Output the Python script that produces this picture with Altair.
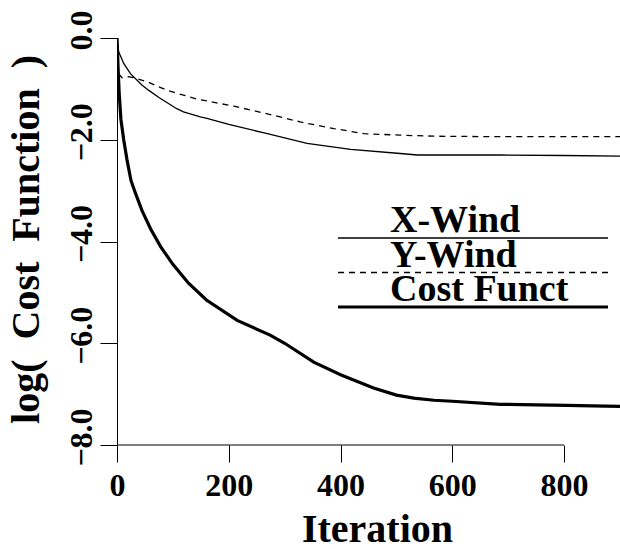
import altair as alt
import pandas as pd

FONT = "Liberation Serif"

x_ticks = [0, 200, 400, 600, 800]
y_ticks = [0.0, -2.0, -4.0, -6.0, -8.0]

xwind_iter = [0, 3, 12, 24, 45, 57, 75, 107, 119, 149, 161, 200, 269, 340, 418, 507, 537, 600, 686, 800, 900]
xwind_val = [0.0, -0.27, -0.5, -0.70, -0.93, -1.03, -1.17, -1.39, -1.45, -1.55, -1.58, -1.70, -1.88, -2.07, -2.19, -2.27, -2.30, -2.30, -2.30, -2.31, -2.32]

ywind_iter = [3, 9, 20, 29, 54, 90, 143, 209, 269, 328, 388, 442, 507, 567, 686, 800, 900]
ywind_val = [-0.70, -0.78, -0.76, -0.78, -0.86, -1.03, -1.20, -1.34, -1.49, -1.65, -1.78, -1.88, -1.91, -1.93, -1.94, -1.94, -1.94]

cost_iter = [0, 2, 4, 7, 12, 18, 25, 33, 45, 60, 78, 100, 128, 160, 215, 274, 300, 352, 400, 459, 500, 531, 567, 600, 686, 750, 806, 850, 900]
cost_val = [0.0, -0.6, -1.1, -1.6, -2.0, -2.4, -2.8, -3.05, -3.4, -3.75, -4.1, -4.45, -4.82, -5.15, -5.55, -5.84, -6.0, -6.37, -6.62, -6.88, -7.02, -7.08, -7.12, -7.14, -7.2, -7.21, -7.22, -7.23, -7.24]

legend_names = ["X-Wind", "Y-Wind", "Cost Funct"]

xscale = alt.Scale(domain=[0, 900], nice=False, zero=False)
yscale = alt.Scale(domain=[-8, 0], nice=False, zero=False)

xaxis = alt.Axis(
    values=x_ticks, format="d", grid=False, domain=False,
    tickSize=17, tickColor="black", tickWidth=1,
    labelFont=FONT, labelFontSize=32, labelFontWeight="bold", labelColor="black",
    labelPadding=8, labelFlush=False,
    title="Iteration", titleFont=FONT, titleFontSize=40, titleFontWeight="bold",
    titleColor="black", titleX=260, titleY=96, titleBaseline="alphabetic", titleAlign="center",
)
yaxis = alt.Axis(
    values=y_ticks, format=".1f", grid=False, domain=True, domainColor="black", domainWidth=1,
    tickSize=17, tickColor="black", tickWidth=1,
    labelFont=FONT, labelFontSize=32, labelFontWeight="bold", labelColor="black",
    labelAngle=270, labelAlign="center", labelBaseline="bottom", labelPadding=2, labelFlush=False,
    labelOffset=-8,
    title="log(\u00a0\u00a0Cost\u00a0\u00a0Function\u00a0\u00a0)", titleFont=FONT, titleFontSize=40,
    titleFontWeight="bold", titleColor="black", titleAngle=270, titleX=-79, titleY=201,
    titleBaseline="alphabetic", titleAlign="center",
)


def series(iters, vals, width, dash=None):
    df = pd.DataFrame({"Iteration": iters, "value": vals})
    kw = dict(color="black", strokeWidth=width, clip=True)
    if dash:
        kw["strokeDash"] = dash
    return alt.Chart(df).mark_line(**kw).encode(
        x=alt.X("Iteration:Q", scale=xscale, axis=xaxis),
        y=alt.Y("value:Q", scale=yscale, axis=yaxis),
    )


styles = [(1.3, None), (1.3, [6, 5]), (3.2, None)]

layers = [
    series(xwind_iter, xwind_val, *styles[0]),
    series(ywind_iter, ywind_val, *styles[1]),
    series(cost_iter, cost_val, *styles[2]),
]

# x-axis line spanning the labelled ticks
axis_df = pd.DataFrame({"Iteration": [x_ticks[0]], "end": [x_ticks[-1]], "value": [y_ticks[-1]]})
layers.append(
    alt.Chart(axis_df).mark_rule(color="black", strokeWidth=1).encode(
        x=alt.X("Iteration:Q", scale=xscale, axis=xaxis),
        x2="end:Q",
        y=alt.Y("value:Q", scale=yscale, axis=yaxis),
    )
)

# legend
for i, name in enumerate(legend_names):
    w, dash = styles[i]
    df = pd.DataFrame({"label": [name]})
    ly = 200 + i * 34.5
    rkw = dict(color="black", strokeWidth=w)
    if dash:
        rkw["strokeDash"] = dash
    layers.append(
        alt.Chart(df).mark_rule(**rkw).encode(
            x=alt.value(221), x2=alt.value(491), y=alt.value(ly)
        )
    )
    layers.append(
        alt.Chart(df).mark_text(
            font=FONT, fontSize=38, fontWeight="bold", color="black",
            align="left", baseline="alphabetic"
        ).encode(x=alt.value(273), y=alt.value(ly - 6), text="label:N")
    )

chart = alt.layer(*layers).properties(
    width=503, height=407,
    padding={"left": 117, "top": 38, "right": 0, "bottom": 104},
    autosize=alt.AutoSizeParams(type="none"),
    background="white",
).configure_view(stroke="transparent")

chart.save("out.html", embed_options={"renderer": "svg", "actions": False})
